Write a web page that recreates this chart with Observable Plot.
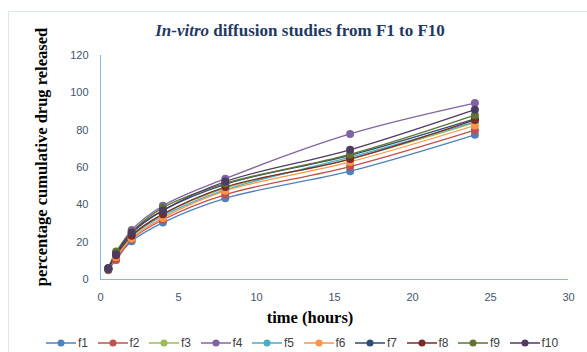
<!DOCTYPE html>
<html>
<head>
<meta charset="utf-8">
<script src="https://cdn.jsdelivr.net/npm/d3@7"></script>
<script src="https://cdn.jsdelivr.net/npm/@observablehq/plot@0.6"></script>
<style>
  html, body { margin: 0; padding: 0; background: #fff; }
  #wrap { position: relative; width: 587px; height: 352px; overflow: hidden; }
  #frame { position: absolute; left: 8px; top: 11px; width: 590px; height: 350px; border: 1px solid #dce6f2; box-sizing: border-box; }
  #chart { position: absolute; left: 0; top: 0; }
  #title { position: absolute; left: 0; width: 600px; top: 21px; text-align: center; font-family: "Liberation Serif", serif; font-weight: bold; font-size: 17px; color: #1f3864; }
  #ytitle { position: absolute; left: 42px; top: 157px; transform: translate(-50%, -50%) rotate(-90deg); white-space: nowrap; font-family: "Liberation Serif", serif; font-weight: bold; font-size: 16.5px; color: #000; }
  #xtitle { position: absolute; left: 310px; top: 318px; transform: translate(-50%, -50%); white-space: nowrap; font-family: "Liberation Serif", serif; font-weight: bold; font-size: 16.5px; color: #000; }
  #legend { position: absolute; left: 46px; top: 335px; height: 16px; display: flex; font-family: "Liberation Sans", sans-serif; font-size: 12px; color: #404040; }
  #legend .item { display: flex; align-items: center; width: 51.5px; }
  #legend svg { display: block; margin-right: 2px; }
</style>
</head>
<body>
<div id="wrap">
  <div id="frame"></div>
  <div id="chart"></div>
  <div id="title"><i>In-vitro</i> diffusion studies from F1 to F10</div>
  <div id="ytitle">percentage cumulative drug released</div>
  <div id="xtitle">time (hours)</div>
  <div id="legend"></div>
</div>
<script>
const time = [0.5, 1, 2, 4, 8, 16, 24];
const f1  = [5.0, 11.0, 20.5, 30.5, 43.5, 58.0, 77.5];
const f2  = [5.5, 10.5, 21.5, 32.0, 45.5, 60.5, 80.0];
const f3  = [5.5, 13.0, 24.0, 35.0, 49.0, 64.5, 84.0];
const f4  = [6.0, 14.0, 26.5, 39.5, 54.0, 78.0, 94.5];
const f5  = [5.5, 12.5, 23.0, 34.0, 48.0, 65.5, 84.5];
const f6  = [5.5, 12.0, 22.0, 33.0, 47.5, 63.0, 82.5];
const f7  = [6.0, 14.0, 25.0, 37.0, 51.0, 66.5, 86.0];
const f8  = [5.5, 13.0, 23.5, 35.0, 49.5, 64.5, 85.5];
const f9  = [6.0, 15.0, 25.5, 38.5, 51.5, 67.0, 88.0];
const f10 = [6.0, 13.5, 25.0, 37.0, 52.5, 69.5, 91.0];
const seriesNames = ["f1","f2","f3","f4","f5","f6","f7","f8","f9","f10"];
const seriesValues = [f1,f2,f3,f4,f5,f6,f7,f8,f9,f10];
const colors = ["#4f81bd","#c0504d","#9bbb59","#8064a2","#4bacc6","#f79646","#2c4d75","#772c2a","#5f7530","#4d3b62"];
const xTicks = [0, 5, 10, 15, 20, 25, 30];
const yTicks = [0, 20, 40, 60, 80, 100, 120];

const data = seriesNames.flatMap((name, i) => time.map((t, j) => ({series: name, time: t, value: seriesValues[i][j]})));

const chart = Plot.plot({
  width: 587,
  height: 352,
  marginLeft: 100,
  marginRight: 19,
  marginTop: 55,
  marginBottom: 73,
  style: {fontFamily: "Liberation Sans, sans-serif", fontSize: "11px", color: "#44546a", background: "transparent", overflow: "visible"},
  x: {domain: [0, 30], ticks: xTicks, tickSize: 0, tickPadding: 14, label: null},
  y: {domain: [0, 120], ticks: yTicks, tickSize: 0, tickPadding: 12, label: null},
  color: {domain: seriesNames, range: colors},
  marks: [
    Plot.ruleY([0], {stroke: "#8eb4e3", strokeWidth: 1}),
    Plot.ruleX([0], {stroke: "#8eb4e3", strokeWidth: 1}),
    Plot.line(data, {x: "time", y: "value", z: "series", stroke: "series", strokeWidth: 1.3, curve: "catmull-rom"}),
    Plot.dot(data, {x: "time", y: "value", fill: "series", r: 4, stroke: "none"})
  ]
});
document.getElementById("chart").appendChild(chart);

const legend = document.getElementById("legend");
seriesNames.forEach((name, i) => {
  const item = document.createElement("div");
  item.className = "item";
  item.innerHTML = `<svg width="30" height="10"><line x1="0" y1="5" x2="30" y2="5" stroke="${colors[i]}" stroke-width="1.5"/><circle cx="15" cy="5" r="3.5" fill="${colors[i]}"/></svg><span>${name}</span>`;
  legend.appendChild(item);
});
</script>
</body>
</html>
